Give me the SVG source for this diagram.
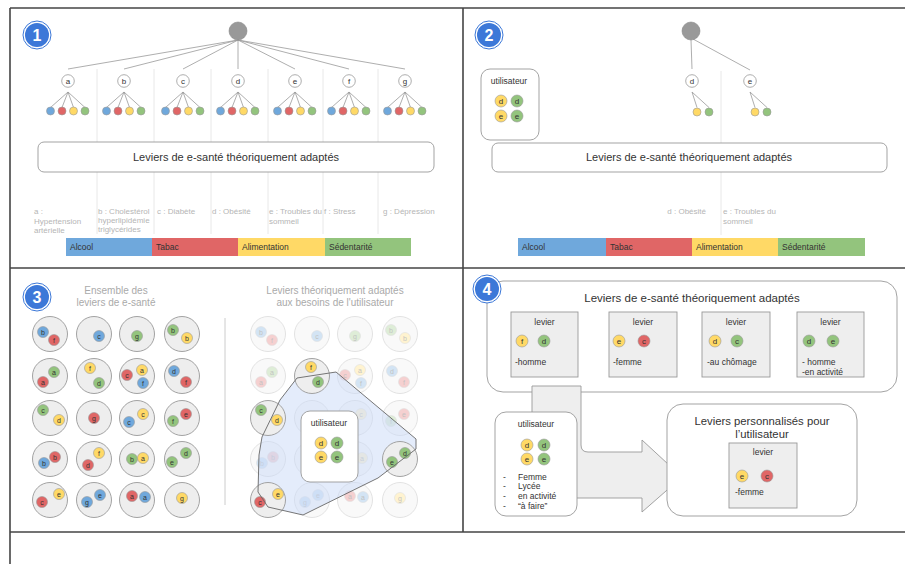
<svg xmlns="http://www.w3.org/2000/svg" width="905" height="564" viewBox="0 0 905 564">
<style>
text{font-family:"Liberation Sans",Arial,sans-serif;fill:#333}
.frame{stroke:#444;stroke-width:1.6;fill:none}
.ln{stroke:#999;stroke-width:0.8;fill:none}
.sep{stroke:#e8e8e8;stroke-width:1;fill:none}
.box{fill:#fff;stroke:#999;stroke-width:0.9}
.gbox{fill:#eee;stroke:#999;stroke-width:0.9}
.big{fill:#eee;stroke:#999;stroke-width:0.9}
.lc{fill:#fff;stroke:#999;stroke-width:0.8}
.B{fill:#6fa8dc;stroke:#999;stroke-width:0.6}
.R{fill:#e06666;stroke:#999;stroke-width:0.6}
.Y{fill:#ffd966;stroke:#999;stroke-width:0.6}
.G{fill:#93c47d;stroke:#999;stroke-width:0.6}
.t11{font-size:11px;text-anchor:middle}
.lbl{font-size:8px;fill:#b5b5b5}
.bar{font-size:8.5px;fill:#333}
.s7{font-size:7px;text-anchor:middle;fill:#333}
.s8{font-size:8px;text-anchor:middle;fill:#333}
.sm{font-size:8.5px}
.smc{font-size:8.5px;text-anchor:middle}
.ttl{font-size:10px;text-anchor:middle;fill:#aaa}
.bdg{font-size:16px;font-weight:bold;fill:#fff;text-anchor:middle}
</style>
<defs>
<g id="b1"><circle r="14" fill="#fff" stroke="#3c78d8" stroke-width="1"/><circle r="12" fill="#3c78d8"/></g>
</defs>
<rect width="905" height="564" fill="#fff"/>

<g id="frame">
<line class="frame" x1="10" y1="8" x2="905" y2="8"/>
<line class="frame" x1="10" y1="8" x2="10" y2="564"/>
<line class="frame" x1="10" y1="268" x2="905" y2="268"/>
<line class="frame" x1="463" y1="8" x2="463" y2="532"/>
<line class="frame" x1="10" y1="532" x2="905" y2="532"/>
</g>

<!-- ================= PANEL 1 ================= -->
<g id="p1-separators">
<line class="sep" x1="97" y1="69" x2="97" y2="234"/>
<line class="sep" x1="154" y1="69" x2="154" y2="234"/>
<line class="sep" x1="211" y1="69" x2="211" y2="234"/>
<line class="sep" x1="268" y1="69" x2="268" y2="234"/>
<line class="sep" x1="323" y1="69" x2="323" y2="234"/>
<line class="sep" x1="378" y1="69" x2="378" y2="234"/>
</g>
<g id="p1-connectors">
<line class="ln" x1="238" y1="40" x2="68" y2="69"/>
<line class="ln" x1="238" y1="40" x2="124" y2="69"/>
<line class="ln" x1="238" y1="40" x2="183" y2="69"/>
<line class="ln" x1="238" y1="40" x2="238" y2="69"/>
<line class="ln" x1="238" y1="40" x2="295" y2="69"/>
<line class="ln" x1="238" y1="40" x2="349" y2="69"/>
<line class="ln" x1="238" y1="40" x2="405" y2="69"/>
<path class="ln" d="M68 92L50.5 107.5M68 92L62 107.5M68 92L73.5 107.5M68 92L85 107.5"/>
<path class="ln" d="M124 92L106.5 107.5M124 92L118 107.5M124 92L129.5 107.5M124 92L141 107.5"/>
<path class="ln" d="M183 92L165.5 107.5M183 92L177 107.5M183 92L188.5 107.5M183 92L200 107.5"/>
<path class="ln" d="M238 92L220.5 107.5M238 92L232 107.5M238 92L243.5 107.5M238 92L255 107.5"/>
<path class="ln" d="M295 92L277.5 107.5M295 92L289 107.5M295 92L300.5 107.5M295 92L312 107.5"/>
<path class="ln" d="M349 92L331.5 107.5M349 92L343 107.5M349 92L354.5 107.5M349 92L366 107.5"/>
<path class="ln" d="M405 92L387.5 107.5M405 92L399 107.5M405 92L410.5 107.5M405 92L422 107.5"/>
</g>
<g id="p1-badge"><use href="#b1" x="37" y="35"/><text class="bdg" x="37" y="41">1</text></g>
<g id="p1-root"><circle cx="238" cy="31" r="9" fill="#999" stroke="#888" stroke-width="0.6"/></g>
<g id="p1-nodes">
<g id="p1-a"><circle class="lc" cx="68" cy="81" r="6.3"/><text class="s8" x="68" y="84">a</text></g>
<g id="p1-b"><circle class="lc" cx="124" cy="81" r="6.3"/><text class="s8" x="124" y="84">b</text></g>
<g id="p1-c"><circle class="lc" cx="183" cy="81" r="6.3"/><text class="s8" x="183" y="84">c</text></g>
<g id="p1-d"><circle class="lc" cx="238" cy="81" r="6.3"/><text class="s8" x="238" y="84">d</text></g>
<g id="p1-e"><circle class="lc" cx="295" cy="81" r="6.3"/><text class="s8" x="295" y="84">e</text></g>
<g id="p1-f"><circle class="lc" cx="349" cy="81" r="6.3"/><text class="s8" x="349" y="84">f</text></g>
<g id="p1-g"><circle class="lc" cx="405" cy="81" r="6.3"/><text class="s8" x="405" y="84">g</text></g>
</g>
<g id="p1-dots">
<circle class="B" cx="50.5" cy="111" r="4"/><circle class="R" cx="62" cy="111" r="4"/><circle class="Y" cx="73.5" cy="111" r="4"/><circle class="G" cx="85" cy="111" r="4"/>
<circle class="B" cx="106.5" cy="111" r="4"/><circle class="R" cx="118" cy="111" r="4"/><circle class="Y" cx="129.5" cy="111" r="4"/><circle class="G" cx="141" cy="111" r="4"/>
<circle class="B" cx="165.5" cy="111" r="4"/><circle class="R" cx="177" cy="111" r="4"/><circle class="Y" cx="188.5" cy="111" r="4"/><circle class="G" cx="200" cy="111" r="4"/>
<circle class="B" cx="220.5" cy="111" r="4"/><circle class="R" cx="232" cy="111" r="4"/><circle class="Y" cx="243.5" cy="111" r="4"/><circle class="G" cx="255" cy="111" r="4"/>
<circle class="B" cx="277.5" cy="111" r="4"/><circle class="R" cx="289" cy="111" r="4"/><circle class="Y" cx="300.5" cy="111" r="4"/><circle class="G" cx="312" cy="111" r="4"/>
<circle class="B" cx="331.5" cy="111" r="4"/><circle class="R" cx="343" cy="111" r="4"/><circle class="Y" cx="354.5" cy="111" r="4"/><circle class="G" cx="366" cy="111" r="4"/>
<circle class="B" cx="387.5" cy="111" r="4"/><circle class="R" cx="399" cy="111" r="4"/><circle class="Y" cx="410.5" cy="111" r="4"/><circle class="G" cx="422" cy="111" r="4"/>
</g>
<g id="p1-leviers"><rect class="box" x="38" y="142" width="396" height="30" rx="6"/><text class="t11" x="236" y="161">Leviers de e-santé théoriquement adaptés</text></g>
<g id="p1-labels">
<text class="lbl" x="34" y="214">a :</text><text class="lbl" x="34" y="224">Hypertension</text><text class="lbl" x="34" y="233">artérielle</text>
<text class="lbl" x="98" y="214">b : Cholestérol</text><text class="lbl" x="98" y="223">hyperlipidémie</text><text class="lbl" x="98" y="232">triglycérides</text>
<text class="lbl" x="157" y="214">c : Diabète</text>
<text class="lbl" x="212" y="214">d : Obésité</text>
<text class="lbl" x="269" y="214">e : Troubles du</text><text class="lbl" x="269" y="224">sommeil</text>
<text class="lbl" x="324" y="214">f : Stress</text>
<text class="lbl" x="383" y="214">g : Dépression</text>
</g>
<g id="p1-bar">
<rect x="66" y="238" width="86" height="18" fill="#6fa8dc"/>
<rect x="152" y="238" width="86" height="18" fill="#e06666"/>
<rect x="238" y="238" width="87" height="18" fill="#ffd966"/>
<rect x="325" y="238" width="86" height="18" fill="#93c47d"/>
<text class="bar" x="70" y="250">Alcool</text><text class="bar" x="156" y="250">Tabac</text><text class="bar" x="242" y="250">Alimentation</text><text class="bar" x="329" y="250">Sédentarité</text>
</g>

<!-- ================= PANEL 2 ================= -->
<g id="p2-separators"><line class="sep" x1="721" y1="71" x2="721" y2="235"/></g>
<g id="p2-connectors">
<line class="ln" x1="691" y1="40" x2="692" y2="69"/>
<line class="ln" x1="693" y1="39" x2="750" y2="70"/>
<path class="ln" d="M692 92L697 107.5M692 92L709 107.5M750 92L755 107.5M750 92L767 107.5"/>
</g>
<g id="p2-badge"><use href="#b1" x="489" y="35"/><text class="bdg" x="489" y="41">2</text></g>
<g id="p2-root"><circle cx="691" cy="31" r="9" fill="#999" stroke="#888" stroke-width="0.6"/></g>
<g id="p2-d"><circle class="lc" cx="692" cy="81" r="6.3"/><text class="s8" x="692" y="84">d</text></g>
<g id="p2-e"><circle class="lc" cx="750" cy="81" r="6.3"/><text class="s8" x="750" y="84">e</text></g>
<g id="p2-dots">
<circle class="Y" cx="697" cy="112" r="4"/><circle class="G" cx="709" cy="112" r="4"/>
<circle class="Y" cx="755" cy="112" r="4"/><circle class="G" cx="767" cy="112" r="4"/>
</g>
<g id="p2-user">
<rect class="box" x="481" y="69" width="58" height="71" rx="9"/>
<text class="smc" x="509" y="84">utilisateur</text>
<circle class="Y" cx="501" cy="101" r="6"/><text class="s8" x="501" y="104">d</text>
<circle class="G" cx="517" cy="101" r="6"/><text class="s8" x="517" y="104">d</text>
<circle class="Y" cx="501" cy="116" r="6"/><text class="s8" x="501" y="119">e</text>
<circle class="G" cx="517" cy="116" r="6"/><text class="s8" x="517" y="119">e</text>
</g>
<g id="p2-leviers"><rect class="box" x="492" y="143" width="395" height="29" rx="6"/><text class="t11" x="689" y="161">Leviers de e-santé théoriquement adaptés</text></g>
<g id="p2-labels">
<text class="lbl" x="706" y="214" text-anchor="end">d : Obésité</text>
<text class="lbl" x="723" y="214">e : Troubles du</text><text class="lbl" x="723" y="224">sommeil</text>
</g>
<g id="p2-bar">
<rect x="518" y="238" width="88" height="18" fill="#6fa8dc"/>
<rect x="606" y="238" width="86" height="18" fill="#e06666"/>
<rect x="692" y="238" width="86" height="18" fill="#ffd966"/>
<rect x="778" y="238" width="87" height="18" fill="#93c47d"/>
<text class="bar" x="522" y="250">Alcool</text><text class="bar" x="610" y="250">Tabac</text><text class="bar" x="696" y="250">Alimentation</text><text class="bar" x="782" y="250">Sédentarité</text>
</g>

<!-- ================= PANEL 3 ================= -->
<g id="p3-badge"><use href="#b1" x="37" y="297"/><text class="bdg" x="37" y="303">3</text></g>
<g id="p3-title-left"><text class="ttl" x="116" y="294">Ensemble des</text><text class="ttl" x="116" y="306">leviers de e-santé</text></g>
<g id="p3-title-right"><text class="ttl" x="335" y="294">Leviers théoriquement adaptés</text><text class="ttl" x="335" y="306">aux besoins de l'utilisateur</text></g>
<g id="p3-separator"><line x1="225" y1="318" x2="225" y2="505" stroke="#ccc" stroke-width="1"/></g>

<g id="p3-left-grid">
<circle class="big" cx="50" cy="334" r="17.5"/><circle class="B" cx="43" cy="332" r="5.5"/><text class="s7" x="43" y="334.5">b</text><circle class="R" cx="54" cy="340" r="5.5"/><text class="s7" x="54" y="342.5">f</text>
<circle class="big" cx="94" cy="334" r="17.5"/><circle class="B" cx="99" cy="336" r="5.5"/><text class="s7" x="99" y="338.5">c</text>
<circle class="big" cx="137" cy="334" r="17.5"/><circle class="G" cx="137" cy="336" r="5.5"/><text class="s7" x="137" y="338.5">g</text>
<circle class="big" cx="182" cy="334" r="17.5"/><circle class="G" cx="173" cy="330" r="5.5"/><text class="s7" x="173" y="332.5">b</text><circle class="Y" cx="187" cy="338" r="5.5"/><text class="s7" x="187" y="340.5">b</text>

<circle class="big" cx="50" cy="376" r="17.5"/><circle class="G" cx="54" cy="372" r="5.5"/><text class="s7" x="54" y="374.5">a</text><circle class="R" cx="43" cy="382" r="5.5"/><text class="s7" x="43" y="384.5">a</text>
<circle class="big" cx="94" cy="376" r="17.5"/><circle class="Y" cx="90" cy="368" r="5.5"/><text class="s7" x="90" y="370.5">f</text><circle class="G" cx="99" cy="383" r="5.5"/><text class="s7" x="99" y="385.5">d</text>
<circle class="big" cx="137" cy="376" r="17.5"/><circle class="R" cx="127" cy="375" r="5.5"/><text class="s7" x="127" y="377.5">c</text><circle class="Y" cx="142" cy="370" r="5.5"/><text class="s7" x="142" y="372.5">a</text><circle class="B" cx="143" cy="383" r="5.5"/><text class="s7" x="143" y="385.5">f</text>
<circle class="big" cx="182" cy="376" r="17.5"/><circle class="B" cx="174" cy="371" r="5.5"/><text class="s7" x="174" y="373.5">d</text><circle class="R" cx="186" cy="382" r="5.5"/><text class="s7" x="186" y="384.5">f</text>

<circle class="big" cx="50" cy="418" r="17.5"/><circle class="G" cx="43" cy="410" r="5.5"/><text class="s7" x="43" y="412.5">c</text><circle class="Y" cx="59" cy="420" r="5.5"/><text class="s7" x="59" y="422.5">d</text>
<circle class="big" cx="94" cy="418" r="17.5"/><circle class="R" cx="94" cy="418" r="5.5"/><text class="s7" x="94" y="420.5">g</text>
<circle class="big" cx="137" cy="418" r="17.5"/><circle class="B" cx="129" cy="422" r="5.5"/><text class="s7" x="129" y="424.5">c</text><circle class="Y" cx="143" cy="414" r="5.5"/><text class="s7" x="143" y="416.5">c</text>
<circle class="big" cx="182" cy="418" r="17.5"/><circle class="G" cx="173" cy="421" r="5.5"/><text class="s7" x="173" y="423.5">f</text><circle class="R" cx="186" cy="414" r="5.5"/><text class="s7" x="186" y="416.5">e</text>

<circle class="big" cx="50" cy="459" r="17.5"/><circle class="R" cx="55" cy="457" r="5.5"/><text class="s7" x="55" y="459.5">b</text><circle class="B" cx="44" cy="463" r="5.5"/><text class="s7" x="44" y="465.5">b</text>
<circle class="big" cx="94" cy="459" r="17.5"/><circle class="Y" cx="99" cy="453" r="5.5"/><text class="s7" x="99" y="455.5">f</text><circle class="R" cx="88" cy="465" r="5.5"/><text class="s7" x="88" y="467.5">d</text>
<circle class="big" cx="137" cy="459" r="17.5"/><circle class="G" cx="132" cy="459" r="5.5"/><text class="s7" x="132" y="461.5">b</text><circle class="Y" cx="143" cy="458" r="5.5"/><text class="s7" x="143" y="460.5">a</text>
<circle class="big" cx="182" cy="459" r="17.5"/><circle class="G" cx="172" cy="462" r="5.5"/><text class="s7" x="172" y="464.5">e</text><circle class="G" cx="186" cy="453" r="5.5"/><text class="s7" x="186" y="455.5">d</text>

<circle class="big" cx="50" cy="500" r="17.5"/><circle class="Y" cx="59" cy="494" r="5.5"/><text class="s7" x="59" y="496.5">e</text><circle class="R" cx="42" cy="502" r="5.5"/><text class="s7" x="42" y="504.5">c</text>
<circle class="big" cx="94" cy="500" r="17.5"/><circle class="B" cx="87" cy="502" r="5.5"/><text class="s7" x="87" y="504.5">g</text><circle class="B" cx="100" cy="495" r="5.5"/><text class="s7" x="100" y="497.5">e</text>
<circle class="big" cx="137" cy="500" r="17.5"/><circle class="R" cx="132" cy="496" r="5.5"/><text class="s7" x="132" y="498.5">a</text><circle class="B" cx="145" cy="497" r="5.5"/><text class="s7" x="145" y="499.5">a</text>
<circle class="big" cx="182" cy="500" r="17.5"/><circle class="Y" cx="182" cy="498" r="5.5"/><text class="s7" x="182" y="500.5">g</text>
</g>

<g id="p3-right-faded" opacity="0.3">
<circle class="big" cx="268" cy="334" r="17.5"/><circle class="B" cx="261" cy="332" r="5.5"/><text class="s7" x="261" y="334.5">b</text><circle class="R" cx="272" cy="340" r="5.5"/><text class="s7" x="272" y="342.5">f</text>
<circle class="big" cx="312" cy="334" r="17.5"/><circle class="B" cx="317" cy="336" r="5.5"/><text class="s7" x="317" y="338.5">c</text>
<circle class="big" cx="355" cy="334" r="17.5"/><circle class="G" cx="355" cy="336" r="5.5"/><text class="s7" x="355" y="338.5">g</text>
<circle class="big" cx="400" cy="334" r="17.5"/><circle class="G" cx="391" cy="330" r="5.5"/><text class="s7" x="391" y="332.5">b</text><circle class="Y" cx="405" cy="338" r="5.5"/><text class="s7" x="405" y="340.5">b</text>

<circle class="big" cx="268" cy="376" r="17.5"/><circle class="G" cx="272" cy="372" r="5.5"/><text class="s7" x="272" y="374.5">a</text><circle class="R" cx="261" cy="382" r="5.5"/><text class="s7" x="261" y="384.5">a</text>
<circle class="big" cx="355" cy="376" r="17.5"/><circle class="R" cx="345" cy="375" r="5.5"/><text class="s7" x="345" y="377.5">c</text><circle class="Y" cx="360" cy="370" r="5.5"/><text class="s7" x="360" y="372.5">a</text><circle class="B" cx="361" cy="383" r="5.5"/><text class="s7" x="361" y="385.5">f</text>
<circle class="big" cx="400" cy="376" r="17.5"/><circle class="B" cx="392" cy="371" r="5.5"/><text class="s7" x="392" y="373.5">d</text><circle class="R" cx="404" cy="382" r="5.5"/><text class="s7" x="404" y="384.5">f</text>

<circle class="big" cx="312" cy="418" r="17.5"/>
<circle class="big" cx="355" cy="418" r="17.5"/><circle class="Y" cx="361" cy="414" r="5.5"/><text class="s7" x="361" y="416.5">c</text>
<circle class="big" cx="400" cy="418" r="17.5"/><circle class="G" cx="391" cy="421" r="5.5"/><text class="s7" x="391" y="423.5">f</text><circle class="R" cx="404" cy="414" r="5.5"/><text class="s7" x="404" y="416.5">e</text>

<circle class="big" cx="268" cy="459" r="17.5"/><circle class="R" cx="273" cy="457" r="5.5"/><text class="s7" x="273" y="459.5">b</text><circle class="B" cx="262" cy="463" r="5.5"/><text class="s7" x="262" y="465.5">b</text>
<circle class="big" cx="312" cy="459" r="17.5"/>
<circle class="big" cx="355" cy="459" r="17.5"/><circle class="Y" cx="362" cy="458" r="5.5"/><text class="s7" x="362" y="460.5">a</text>

<circle class="big" cx="312" cy="500" r="17.5"/><circle class="B" cx="305" cy="502" r="5.5"/><text class="s7" x="305" y="504.5">g</text><circle class="B" cx="318" cy="495" r="5.5"/><text class="s7" x="318" y="497.5">e</text>
<circle class="big" cx="355" cy="500" r="17.5"/><circle class="R" cx="350" cy="496" r="5.5"/><text class="s7" x="350" y="498.5">a</text><circle class="B" cx="363" cy="497" r="5.5"/><text class="s7" x="363" y="499.5">a</text>
<circle class="big" cx="400" cy="500" r="17.5"/><circle class="Y" cx="400" cy="498" r="5.5"/><text class="s7" x="400" y="500.5">g</text>
</g>

<path id="p3-zone-fill" d="M297 378L336 372L416 439L416 449L378 478L303 515L268 507L258 492L259 455L262 437L280 400Z" fill="#c9daf8" fill-opacity="0.5"/>

<g id="p3-right-selected">
<circle class="big" cx="312" cy="376" r="17.5"/><circle class="Y" cx="311" cy="367" r="5.5"/><text class="s7" x="311" y="369.5">f</text><circle class="G" cx="318" cy="382" r="5.5"/><text class="s7" x="318" y="384.5">d</text>
<circle class="big" cx="268" cy="418" r="17.5"/><circle class="G" cx="261" cy="410" r="5.5"/><text class="s7" x="261" y="412.5">c</text><circle class="Y" cx="277" cy="420" r="5.5"/><text class="s7" x="277" y="422.5">d</text>
<circle class="big" cx="400" cy="459" r="17.5"/><circle class="G" cx="392" cy="462" r="5.5"/><text class="s7" x="392" y="464.5">e</text><circle class="G" cx="405" cy="453" r="5.5"/><text class="s7" x="405" y="455.5">d</text>
<circle class="big" cx="268" cy="500" r="17.5"/><circle class="Y" cx="278" cy="494" r="5.5"/><text class="s7" x="278" y="496.5">e</text><circle class="R" cx="260" cy="502" r="5.5"/><text class="s7" x="260" y="504.5">c</text>
</g>
<g id="connectors">
<path id="p3-zone-outline" d="M297 378L336 372L416 439L416 449L378 478L303 515L268 507L258 492L259 455L262 437L280 400Z" fill="none" stroke="#666" stroke-width="0.9"/>
</g>
<g id="p3-user">
<rect class="box" x="301" y="411" width="57" height="71" rx="9"/>
<text class="smc" x="329" y="426">utilisateur</text>
<circle class="Y" cx="321" cy="443" r="6"/><text class="s8" x="321" y="446">d</text>
<circle class="G" cx="337" cy="443" r="6"/><text class="s8" x="337" y="446">d</text>
<circle class="Y" cx="321" cy="457" r="6"/><text class="s8" x="321" y="460">e</text>
<circle class="G" cx="337" cy="457" r="6"/><text class="s8" x="337" y="460">e</text>
</g>

<!-- ================= PANEL 4 ================= -->
<g id="p4-theory">
<rect class="box" x="487" y="281" width="410" height="111" rx="16"/>
<text x="692" y="302" font-size="11.5" text-anchor="middle">Leviers de e-santé théoriquement adaptés</text>
<g id="p4-lev1"><rect class="gbox" x="511" y="312" width="67" height="65"/><text class="smc" x="544.5" y="325">levier</text>
<circle class="Y" cx="522" cy="341" r="6"/><text class="s8" x="522" y="344">f</text><circle class="G" cx="544" cy="341" r="6"/><text class="s8" x="544" y="344">d</text>
<text class="sm" x="515" y="365">-homme</text></g>
<g id="p4-lev2"><rect class="gbox" x="609" y="312" width="68" height="65"/><text class="smc" x="643" y="325">levier</text>
<circle class="Y" cx="619" cy="341" r="6"/><text class="s8" x="619" y="344">e</text><circle class="R" cx="644" cy="341" r="6"/><text class="s8" x="644" y="344">c</text>
<text class="sm" x="613" y="365">-femme</text></g>
<g id="p4-lev3"><rect class="gbox" x="702" y="312" width="68" height="65"/><text class="smc" x="736" y="325">levier</text>
<circle class="Y" cx="715" cy="341" r="6"/><text class="s8" x="715" y="344">d</text><circle class="G" cx="737" cy="341" r="6"/><text class="s8" x="737" y="344">c</text>
<text class="sm" x="707" y="365">-au chômage</text></g>
<g id="p4-lev4"><rect class="gbox" x="797" y="312" width="67" height="65"/><text class="smc" x="830.5" y="325">levier</text>
<circle class="G" cx="809" cy="341" r="6"/><text class="s8" x="809" y="344">d</text><circle class="G" cx="833" cy="341" r="6"/><text class="s8" x="833" y="344">e</text>
<text class="sm" x="802" y="365">- homme</text><text class="sm" x="802" y="375">-en activité</text></g>
</g>
<g id="p4-badge"><use href="#b1" x="487" y="289"/><text class="bdg" x="487" y="295">4</text></g>
<g id="p4-arrow">
<path d="M532 386L581 386L581 445Q581 452 588 452L642 452L642 440L682 477L642 512L642 498L532 498Z" fill="#eee" stroke="#999" stroke-width="0.9"/>
</g>
<g id="p4-user">
<rect class="box" x="495" y="412" width="82" height="104" rx="11"/>
<text class="smc" x="536" y="427">utilisateur</text>
<circle class="Y" cx="527" cy="445" r="6"/><text class="s8" x="527" y="448">d</text>
<circle class="G" cx="544" cy="445" r="6"/><text class="s8" x="544" y="448">d</text>
<circle class="Y" cx="527" cy="459" r="6"/><text class="s8" x="527" y="462">e</text>
<circle class="G" cx="544" cy="459" r="6"/><text class="s8" x="544" y="462">e</text>
<text class="sm" x="503" y="480">-</text><text class="sm" x="518" y="480">Femme</text>
<text class="sm" x="503" y="489">-</text><text class="sm" x="518" y="489">Lycée</text>
<text class="sm" x="503" y="499">-</text><text class="sm" x="518" y="499">en activité</text>
<text class="sm" x="503" y="509">-</text><text class="sm" x="518" y="509">“à faire”</text>
</g>
<g id="p4-result">
<rect class="box" x="667" y="404" width="190" height="112" rx="16"/>
<text x="762" y="425" font-size="11.3" text-anchor="middle">Leviers personnalisés pour</text>
<text x="762" y="438" font-size="11.3" text-anchor="middle">l’utilisateur</text>
<rect class="gbox" x="729" y="443" width="68" height="65"/>
<text class="smc" x="763" y="455">levier</text>
<circle class="Y" cx="742" cy="476" r="6"/><text class="s8" x="742" y="479">e</text>
<circle class="R" cx="767" cy="476" r="6"/><text class="s8" x="767" y="479">c</text>
<text class="sm" x="735" y="495">-femme</text>
</g>
</svg>
